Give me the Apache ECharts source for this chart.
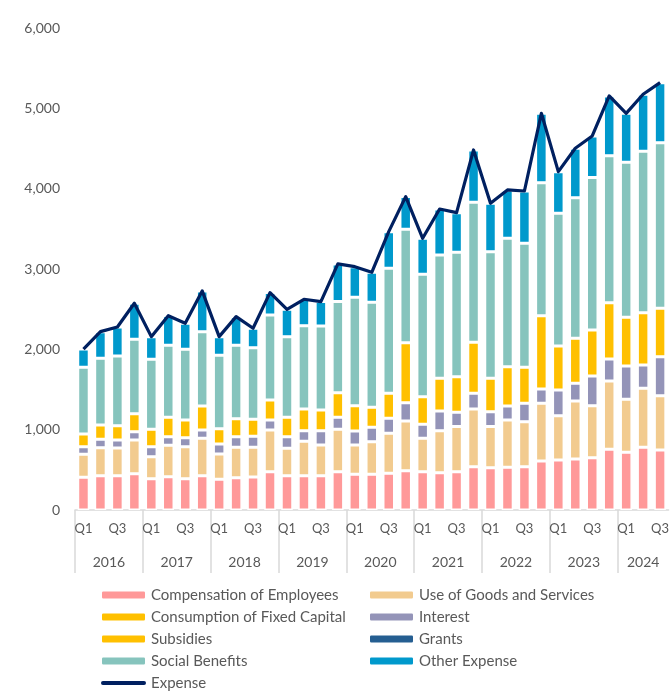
<!DOCTYPE html>
<html>
<head>
<meta charset="utf-8">
<title>Government Expense by Component</title>
<script src="https://cdn.jsdelivr.net/npm/echarts@6/dist/echarts.min.js"></script>
<style>
  html, body { margin: 0; padding: 0; background: #ffffff; }
  #chart { width: 672px; height: 695px; }
</style>
</head>
<body>
<div id="chart"></div>
<script>
// Quarterly government expense, stacked by component (2016 Q1 – 2024 Q3)
const years = ['2016', '2017', '2018', '2019', '2020', '2021', '2022', '2023', '2024'];
const quarters = ['Q1', 'Q2', 'Q3', 'Q4'];
const quartersPerYear = [4, 4, 4, 4, 4, 4, 4, 4, 3];

const compensation = [407, 427, 427, 452, 390, 415, 390, 427, 382, 402, 412, 477, 427, 427, 427, 477, 444, 444, 457, 490, 477, 465, 477, 539, 527, 531, 539, 610, 622, 635, 651, 756, 718, 780, 747];
const goodsServices = [286, 349, 345, 420, 274, 390, 398, 465, 315, 378, 368, 519, 341, 428, 382, 527, 365, 407, 498, 618, 415, 523, 561, 719, 511, 589, 561, 718, 552, 722, 648, 850, 660, 735, 676];
const fixedCapital = [];
const interest = [95, 104, 100, 103, 124, 108, 112, 104, 125, 133, 137, 124, 145, 133, 179, 150, 175, 179, 187, 228, 175, 245, 178, 195, 186, 175, 228, 178, 320, 220, 369, 274, 415, 290, 486];
const subsidies = [158, 178, 178, 224, 216, 241, 220, 299, 190, 224, 212, 250, 241, 270, 257, 307, 315, 248, 311, 747, 344, 407, 444, 635, 416, 489, 448, 913, 548, 560, 573, 701, 606, 651, 602];
const grants = [];
const socialBenefits = [830, 830, 867, 926, 872, 896, 880, 925, 914, 913, 892, 1058, 1004, 1037, 1046, 1133, 1349, 1307, 1556, 1412, 1523, 1535, 1548, 1743, 1576, 1599, 1544, 1656, 1652, 1751, 1897, 1830, 1930, 2010, 2062];
const otherExpense = [228, 332, 361, 448, 282, 369, 324, 507, 232, 357, 241, 278, 340, 328, 303, 469, 381, 374, 456, 406, 448, 572, 493, 651, 602, 601, 651, 863, 518, 615, 518, 743, 609, 709, 747];
const expense = [2004, 2220, 2278, 2573, 2158, 2419, 2324, 2727, 2158, 2407, 2262, 2706, 2498, 2623, 2594, 3063, 3029, 2959, 3465, 3901, 3382, 3747, 3701, 4482, 3818, 3984, 3971, 4938, 4212, 4503, 4656, 5154, 4938, 5175, 5320];

// Category list: one entry per quarter
const categories = [];
years.forEach((y, i) => {
  for (let q = 0; q < quartersPerYear[i]; q++) categories.push(y + ' ' + quarters[q]);
});

// Year boundaries and year-label centres along the quarter scale
const yearStarts = [];
const yearCentres = [];
let pos = 0;
quartersPerYear.forEach(n => {
  yearStarts.push(pos);
  yearCentres.push(pos + n / 2);
  pos += n;
});

const FONT = 'Lato, "Open Sans", sans-serif';
const TEXT = '#595959';
const GRID_LINE = '#D9D9D9';

const colors = {
  'Compensation of Employees': '#FF9999',
  'Use of Goods and Services': '#F2CB8F',
  'Consumption of Fixed Capital': '#FFC000',
  'Interest': '#9494B8',
  'Subsidies': '#FFC000',
  'Grants': '#255E91',
  'Social Benefits': '#86C4BD',
  'Other Expense': '#0099CC'
};

const stacks = [
  ['Compensation of Employees', compensation],
  ['Use of Goods and Services', goodsServices],
  ['Consumption of Fixed Capital', fixedCapital],
  ['Interest', interest],
  ['Subsidies', subsidies],
  ['Grants', grants],
  ['Social Benefits', socialBenefits],
  ['Other Expense', otherExpense]
];

const series = stacks.map(([name, data]) => ({
  name,
  type: 'bar',
  stack: 'expense',
  data,
  barWidth: 11.5,
  itemStyle: { color: colors[name], borderColor: '#ffffff', borderWidth: 1.5 },
  emphasis: { disabled: true }
}));

series.push({
  name: 'Expense',
  type: 'line',
  data: expense,
  symbol: 'none',
  lineStyle: { color: '#002060', width: 3.2, join: 'round' },
  itemStyle: { color: '#002060' },
  z: 5
});

const legendCommon = {
  orient: 'vertical',
  itemWidth: 45,
  itemHeight: 9,
  itemGap: 4,
  padding: 0,
  height: 110,
  selectedMode: false,
  symbolKeepAspect: true,
  textStyle: { fontFamily: FONT, fontSize: 15, color: TEXT, lineHeight: 18 }
};

const chart = echarts.init(document.getElementById('chart'), null, { renderer: 'canvas' });
chart.setOption({
  animation: false,
  backgroundColor: '#ffffff',
  grid: { left: 75, top: 28, width: 598, height: 482, containLabel: false },
  legend: [
    Object.assign({}, legendCommon, {
      left: 100, top: 586,
      data: [
        'Compensation of Employees',
        'Consumption of Fixed Capital',
        'Subsidies',
        'Social Benefits',
        { name: 'Expense', icon: 'path://M2,0 H88 A2,2 0 0 1 88,8 H2 A2,2 0 0 1 2,0 Z' }
      ]
    }),
    Object.assign({}, legendCommon, {
      left: 368, top: 586,
      data: ['Use of Goods and Services', 'Interest', 'Grants', 'Other Expense']
    })
  ],
  xAxis: [
    {
      type: 'category',
      data: categories,
      boundaryGap: true,
      axisLine: { show: true, lineStyle: { color: GRID_LINE, width: 1.5 } },
      axisTick: { show: false },
      axisLabel: {
        interval: 1,
        margin: 12,
        fontFamily: FONT, fontSize: 13, color: TEXT,
        formatter: v => v.split(' ')[1]
      },
      splitLine: { show: false }
    },
    {
      type: 'value',
      position: 'bottom',
      min: 0,
      max: categories.length,
      axisLine: { show: false },
      axisTick: {
        show: true,
        customValues: yearStarts,
        length: 63,
        lineStyle: { color: GRID_LINE, width: 1.5 }
      },
      axisLabel: {
        customValues: yearCentres,
        margin: 45,
        fontFamily: FONT, fontSize: 14, color: TEXT,
        formatter: v => years[yearCentres.indexOf(v)]
      },
      splitLine: { show: false }
    }
  ],
  yAxis: {
    type: 'value',
    min: 0,
    max: 6000,
    interval: 1000,
    axisLine: { show: false },
    axisTick: { show: false },
    splitLine: { show: false },
    axisLabel: {
      margin: 15,
      fontFamily: FONT, fontSize: 14, color: TEXT,
      formatter: v => v.toLocaleString('en-US')
    }
  },
  series
});
</script>
</body>
</html>
